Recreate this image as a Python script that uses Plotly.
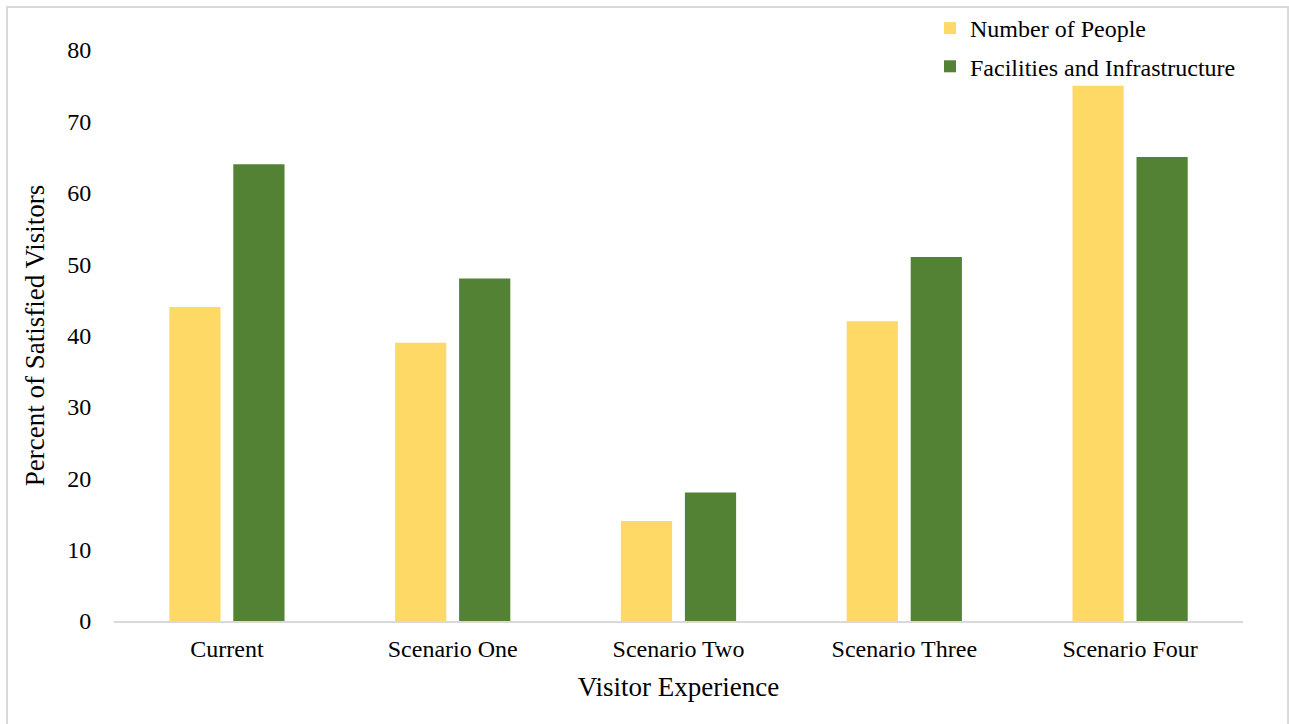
import plotly.graph_objects as go

# Survey results: share of visitors satisfied under each scenario
scenarios = ["Current", "Scenario One", "Scenario Two", "Scenario Three", "Scenario Four"]
number_of_people = [44, 39, 14, 42, 75]
facilities_infrastructure = [64, 48, 18, 51, 65]

y_ticks = [0, 10, 20, 30, 40, 50, 60, 70, 80]

YELLOW = "#FFD966"
GREEN = "#548235"
FONT = "Liberation Serif, Times New Roman, serif"

W, H = 1289, 724
L, R, T, B = 114, 46, 50, 103

fig = go.Figure()
fig.add_trace(go.Bar(
    x=scenarios, y=number_of_people, name="Number of People",
    marker=dict(color=YELLOW, line=dict(width=0)), legendgroup="a",
))
fig.add_trace(go.Bar(
    x=scenarios, y=facilities_infrastructure, name="Facilities and Infrastructure",
    marker=dict(color=GREEN, line=dict(width=0)), legendgroup="b",
))

# light frame around the whole chart, expressed in paper units
pw, ph = W - L - R, H - T - B
def px_x(v):
    return (v - L) / pw
def px_y(v):
    return (H - B - v) / ph

fig.add_shape(
    type="rect", xref="paper", yref="paper",
    x0=px_x(7), x1=px_x(1288), y0=px_y(727), y1=px_y(7),
    line=dict(color="#d9d9d9", width=2), fillcolor="rgba(0,0,0,0)", layer="below",
)

fig.update_layout(
    width=W, height=H,
    margin=dict(l=L, r=R, t=T, b=B, autoexpand=False),
    paper_bgcolor="white", plot_bgcolor="white",
    font=dict(family=FONT, color="black", size=24),
    barmode="group", bargap=0.433, bargroupgap=0.2,
    showlegend=True,
    legend=dict(
        xref="container", yref="container",
        x=930 / W, y=1 - 6 / H, xanchor="left", yanchor="top",
        font=dict(family=FONT, size=24, color="black"),
        bgcolor="rgba(0,0,0,0)", tracegroupgap=4, traceorder="grouped",
        itemclick=False,
    ),
    xaxis=dict(
        showgrid=False, showline=True, linecolor="#d9d9d9", linewidth=2,
        ticks="outside", ticklen=5, tickcolor="rgba(0,0,0,0)",
        tickfont=dict(size=24),
        title=dict(text="Visitor Experience", font=dict(size=27), standoff=16),
    ),
    yaxis=dict(
        range=[0, 80], tickvals=y_ticks, showgrid=False, showline=False,
        zeroline=False, ticks="outside", ticklen=17, tickcolor="rgba(0,0,0,0)",
        tickfont=dict(size=24),
        title=dict(text="Percent of Satisfied Visitors", font=dict(size=27), standoff=14),
    ),
)

fig.write_html("out.html")
